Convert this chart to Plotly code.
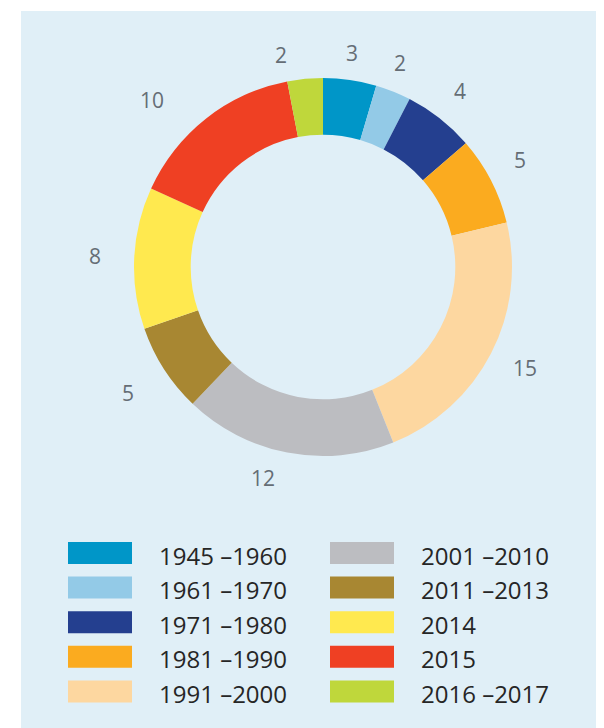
import math
import plotly.graph_objects as go

categories = ["1945 –1960", "1961 –1970", "1971 –1980", "1981 –1990", "1991 –2000",
              "2001 –2010", "2011 –2013", "2014", "2015", "2016 –2017"]
values = [3, 2, 4, 5, 15, 12, 5, 8, 10, 2]
colors = ["#0096c8", "#93cae7", "#243f8f", "#fbab1f", "#fdd7a0",
          "#bcbdc1", "#a88732", "#ffe94f", "#ef4023", "#bfd73b"]

W, H = 604, 728
OFF = 8  # page body margin offset
cx, cy, R = 323 - OFF, 267 - OFF, 189
hole = 0.70
label_r = 224
# small hand-placement nudges of the outer value labels (pixels, layout only)
label_nudge = [(-3, 8), (-6, 3.5), (-1.5, 0), (-2, -4), (3, -2),
               (-17.5, -9), (-6.5, 5), (-4, 0), (-32.5, 9.5), (-20.5, 11)]

fig = go.Figure()
fig.add_trace(go.Pie(
    labels=categories, values=values, sort=False, direction="clockwise",
    rotation=0, hole=hole,
    marker=dict(colors=colors, line=dict(width=0)),
    textinfo="none", hoverinfo="label+value", showlegend=False,
    domain=dict(x=[(cx - R) / W, (cx + R) / W], y=[1 - (cy + R) / H, 1 - (cy - R) / H]),
))

annotations = []
total = sum(values)
cum = 0
for v, (ndx, ndy) in zip(values, label_nudge):
    mid = (cum + v / 2) / total * 2 * math.pi
    cum += v
    px = cx + label_r * math.sin(mid) + ndx
    py = cy - label_r * math.cos(mid) + ndy
    annotations.append(dict(x=px / W, y=1 - py / H, xref="paper", yref="paper",
                            text=str(v), showarrow=False, xanchor="center", yanchor="middle",
                            font=dict(size=21, color="#656d75", family="Open Sans")))

shapes = [dict(type="rect", xref="paper", yref="paper", x0=(21 - OFF) / W, x1=1, y0=0,
               y1=1 - (11 - OFF) / H,
               fillcolor="#e0eff7", line=dict(width=0), layer="below")]

# legend (two columns of five)
col_x = [68 - OFF, 330 - OFF]
text_x = [157 - OFF, 419 - OFF]
row_y0 = 542 - OFF
row_step = 34.6
sw_w, sw_h = 64, 22
for i, (cat, col) in enumerate(zip(categories, colors)):
    c, r = divmod(i, 5)
    y0 = row_y0 + r * row_step
    shapes.append(dict(type="rect", xref="paper", yref="paper",
                       x0=col_x[c] / W, x1=(col_x[c] + sw_w) / W,
                       y0=1 - (y0 + sw_h) / H, y1=1 - y0 / H,
                       fillcolor=col, line=dict(width=0)))
    annotations.append(dict(x=text_x[c] / W, y=1 - (y0 + sw_h / 2 + 2) / H, xref="paper", yref="paper",
                            text=cat, showarrow=False, xanchor="left", yanchor="middle",
                            font=dict(size=24, color="#262626", family="Open Sans")))

fig.update_layout(width=W, height=H, margin=dict(l=0, r=0, t=0, b=0),
                  paper_bgcolor="white", plot_bgcolor="white",
                  shapes=shapes, annotations=annotations)
fig.write_html("out.html")
